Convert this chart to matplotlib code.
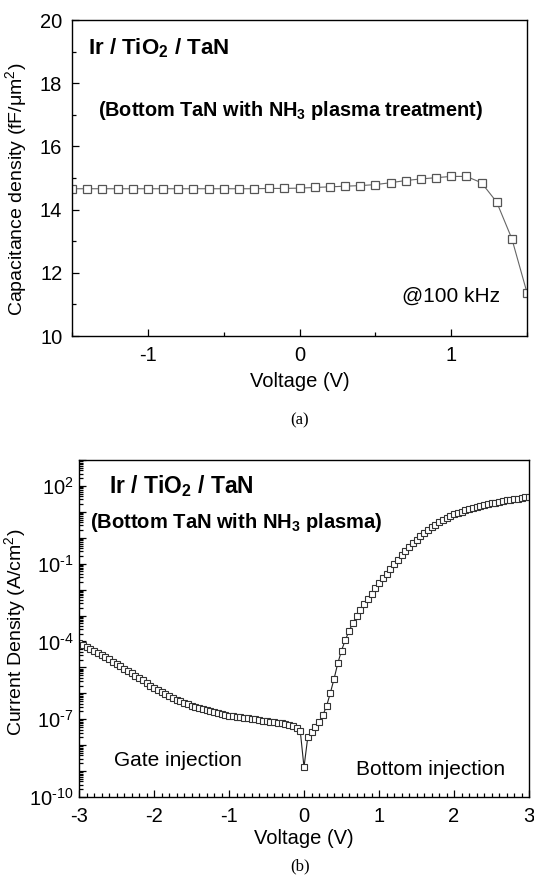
import numpy as np
import matplotlib
matplotlib.use("Agg")
import matplotlib.pyplot as plt
from matplotlib.ticker import FixedLocator, MultipleLocator, FuncFormatter, NullFormatter

plt.rcParams["font.family"] = ["Liberation Sans", "DejaVu Sans"]
plt.rcParams["mathtext.fontset"] = "custom"
plt.rcParams["mathtext.rm"] = "Liberation Sans"
plt.rcParams["mathtext.bf"] = "Liberation Sans:bold"
plt.rcParams["mathtext.default"] = "regular"
plt.rcParams["axes.unicode_minus"] = False

# (a) C-V at 100 kHz
cv_voltage = [-1.5, -1.4, -1.3, -1.2, -1.1, -1.0, -0.9, -0.8, -0.7, -0.6, -0.5,
              -0.4, -0.3, -0.2, -0.1, 0.0, 0.1, 0.2, 0.3, 0.4, 0.5, 0.6, 0.7,
              0.8, 0.9, 1.0, 1.1, 1.2, 1.3, 1.4, 1.5]
cv_cap = [14.66, 14.66, 14.66, 14.66, 14.66, 14.66, 14.66, 14.66, 14.66, 14.66,
          14.66, 14.66, 14.66, 14.67, 14.67, 14.68, 14.70, 14.72, 14.74, 14.76,
          14.79, 14.85, 14.92, 14.97, 15.01, 15.05, 15.05, 14.85, 14.24, 13.08,
          11.37]

# (b) J-V, log10 of current density
jv_voltage = [-3.00, -2.95, -2.90, -2.85, -2.80, -2.75, -2.70, -2.65, -2.60, -2.55,
              -2.50, -2.45, -2.40, -2.35, -2.30, -2.25, -2.20, -2.15, -2.10, -2.05,
              -2.00, -1.95, -1.90, -1.85, -1.80, -1.75, -1.70, -1.65, -1.60, -1.55,
              -1.50, -1.45, -1.40, -1.35, -1.30, -1.25, -1.20, -1.15, -1.10, -1.05,
              -1.00, -0.95, -0.90, -0.85, -0.80, -0.75, -0.70, -0.65, -0.60, -0.55,
              -0.50, -0.45, -0.40, -0.35, -0.30, -0.25, -0.20, -0.15, -0.10, -0.05,
              0.00, 0.05, 0.10, 0.15, 0.20, 0.25, 0.30, 0.35, 0.40, 0.45,
              0.50, 0.55, 0.60, 0.65, 0.70, 0.75, 0.80, 0.85, 0.90, 0.95,
              1.00, 1.05, 1.10, 1.15, 1.20, 1.25, 1.30, 1.35, 1.40, 1.45,
              1.50, 1.55, 1.60, 1.65, 1.70, 1.75, 1.80, 1.85, 1.90, 1.95,
              2.00, 2.05, 2.10, 2.15, 2.20, 2.25, 2.30, 2.35, 2.40, 2.45,
              2.50, 2.55, 2.60, 2.65, 2.70, 2.75, 2.80, 2.85, 2.90, 2.95, 3.00]
jv_log_j = [-4.05, -4.13, -4.21, -4.29, -4.37, -4.45, -4.53, -4.61, -4.69, -4.78,
            -4.87, -4.96, -5.05, -5.14, -5.23, -5.32, -5.41, -5.50, -5.60, -5.70,
            -5.79, -5.88, -5.96, -6.04, -6.11, -6.18, -6.25, -6.31, -6.37, -6.43,
            -6.48, -6.53, -6.58, -6.62, -6.66, -6.70, -6.74, -6.77, -6.80, -6.83,
            -6.86, -6.89, -6.91, -6.93, -6.95, -6.97, -6.99, -7.01, -7.03, -7.05,
            -7.07, -7.09, -7.11, -7.13, -7.15, -7.18, -7.21, -7.25, -7.33, -7.45,
            -8.85, -7.70, -7.50, -7.30, -7.10, -6.85, -6.50, -6.00, -5.45, -4.85,
            -4.35, -3.95, -3.60, -3.30, -3.02, -2.78, -2.56, -2.35, -2.15, -1.95,
            -1.75, -1.56, -1.38, -1.20, -1.03, -0.85, -0.68, -0.52, -0.37, -0.22,
            -0.08, 0.06, 0.19, 0.31, 0.42, 0.51, 0.60, 0.68, 0.76, 0.83,
            0.90, 0.96, 1.01, 1.06, 1.11, 1.16, 1.20, 1.24, 1.27, 1.30,
            1.33, 1.36, 1.39, 1.41, 1.44, 1.46, 1.49, 1.51, 1.53, 1.56, 1.58]
log_tick_exps = [2, -1, -4, -7, -10]


def log_label(v, pos):
    e = int(round(np.log10(v)))
    if e not in log_tick_exps:
        return ""
    # short hyphen in the exponent, like the original figure
    sign = "\u2010" if e < 0 else ""
    return "$10^{%s%d}$" % (sign, abs(e))


fig = plt.figure(figsize=(5.34, 8.75), dpi=100)

# ---- panel (a)
ax1 = fig.add_axes([72 / 534, 1 - 336 / 875, 455 / 534, 316 / 875])
ax1.plot(cv_voltage, cv_cap, "-", color="#666666", lw=0.8,
         marker="s", ms=5.6, mfc="white", mec="#555555", mew=0.9)
ax1.set_xlim(-1.5, 1.5)
ax1.set_ylim(10, 20)
ax1.xaxis.set_major_locator(MultipleLocator(1))
ax1.xaxis.set_minor_locator(MultipleLocator(0.5))
ax1.yaxis.set_major_locator(MultipleLocator(2))
ax1.yaxis.set_minor_locator(MultipleLocator(1))
ax1.tick_params(which="both", direction="in", top=False, right=False,
                labelsize=14.5, width=0.9)
ax1.tick_params(which="major", length=5, pad=7)
ax1.tick_params(which="minor", length=3)
ax1.set_xlabel("Voltage (V)", fontsize=14.5)
ax1.xaxis.set_label_coords(0.5, -0.115)
ax1.set_ylabel("Capacitance density (fF/μm$^2$)", fontsize=14, va="top")
ax1.yaxis.set_label_coords((3 - 72) / 455, 0.465)
for s in ax1.spines.values():
    s.set_linewidth(1.0)

ax1.text(-1.395, 18.9, r"Ir / TiO$_\mathbf{2}$ / TaN", fontsize=16,
         fontweight="bold", va="baseline")
ax1.text(-1.33, 16.95, r"(Bottom TaN with NH$_\mathbf{3}$ plasma treatment)",
         fontsize=14.3, fontweight="bold", va="baseline")
ax1.text(0.676, 11.09, "@100 kHz", fontsize=15, va="baseline")
fig.text(300 / 534, 1 - 420 / 875, "(a)", fontsize=12, ha="center", va="center",
         family="Liberation Serif")

# ---- panel (b)
ax2 = fig.add_axes([79 / 534, 1 - 797 / 875, 450 / 534, 337 / 875])
ax2.plot(jv_voltage, np.power(10.0, jv_log_j), "-", color="#222222", lw=0.8,
         marker="s", ms=5.0, mfc="white", mec="#333333", mew=0.8)
ax2.set_yscale("log")
ax2.set_xlim(-3, 3)
ax2.set_ylim(1e-10, 1e3)
ax2.xaxis.set_major_locator(MultipleLocator(1))
ax2.xaxis.set_minor_locator(MultipleLocator(0.1))
ax2.yaxis.set_major_locator(FixedLocator([10.0 ** e for e in range(-10, 4)]))
ax2.yaxis.set_major_formatter(FuncFormatter(log_label))
minor = [m * 10.0 ** e for e in range(-10, 3) for m in range(2, 10)]
ax2.yaxis.set_minor_locator(FixedLocator(minor))
ax2.yaxis.set_minor_formatter(NullFormatter())
ax2.tick_params(which="both", direction="in", top=False, right=False, width=0.9)
ax2.tick_params(axis="y", which="major", length=5, pad=4, labelsize=14.5)
ax2.tick_params(axis="x", which="major", length=5, pad=7, labelsize=14.5)
ax2.tick_params(which="minor", length=3)
ax2.set_xlabel("Voltage (V)", fontsize=14.5)
ax2.xaxis.set_label_coords(0.5, -0.095)
ax2.set_ylabel("Current Density (A/cm$^2$)", fontsize=14, va="top")
ax2.yaxis.set_label_coords((2 - 79) / 450, 0.49)
for s in ax2.spines.values():
    s.set_linewidth(1.0)

ax2.text(-2.6, 10 ** 1.74, r"Ir / TiO$_\mathbf{2}$ / TaN", fontsize=16.5,
         fontweight="bold", va="baseline")
ax2.text(-2.86, 10 ** 0.39, r"(Bottom TaN with NH$_\mathbf{3}$ plasma)",
         fontsize=14.5, fontweight="bold", va="baseline")
ax2.text(-2.54, 10 ** -8.81, "Gate injection", fontsize=15, va="baseline")
ax2.text(0.7, 10 ** -9.15, "Bottom injection", fontsize=15, va="baseline")
fig.text(300 / 534, 1 - 866 / 875, "(b)", fontsize=12, ha="center", va="center",
         family="Liberation Serif")

fig.savefig("out.png", dpi=100)
